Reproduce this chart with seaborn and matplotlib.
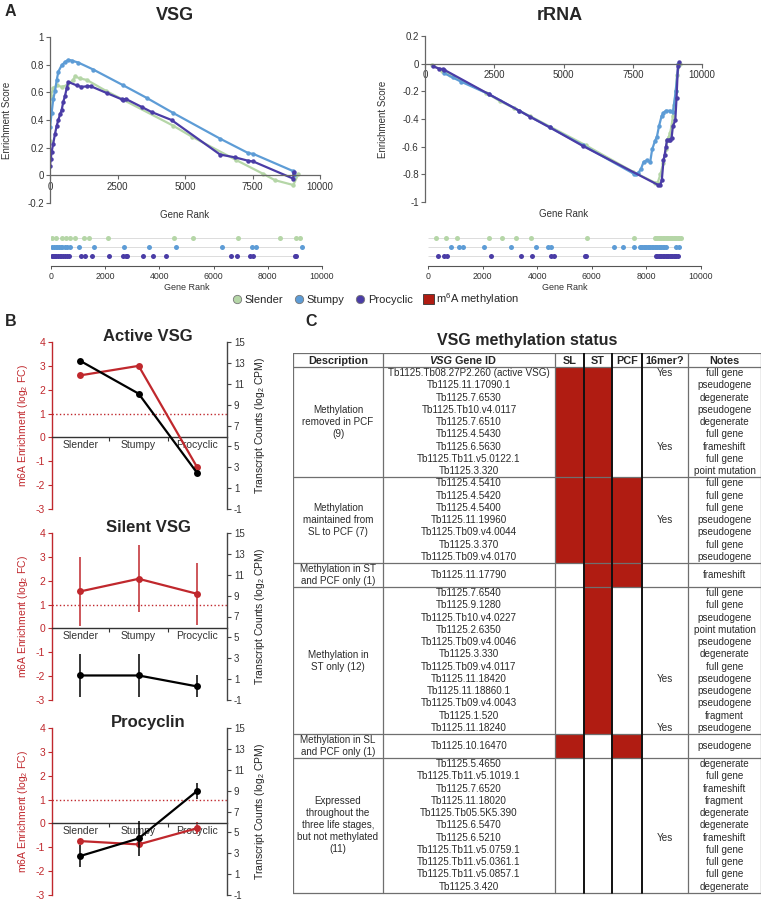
import numpy as np
import pandas as pd
import seaborn as sns
from matplotlib import pyplot as plt
from matplotlib.lines import Line2D
from matplotlib.patches import Patch, Rectangle

W, H = 764, 901

STAGE_COLORS = ['#B5D6A7', '#5D9CD6', '#4A3CA6']   # slender, stumpy, procyclic
STAGE_NAMES = ['Slender', 'Stumpy', 'Procyclic']
RED = '#C0282D'
METH_RED = '#B01C12'

# ---------------- A: running enrichment score ----------------
vsg_slender_rank = [0, 25, 120, 250, 430, 620, 860, 930, 1110, 1360, 2080, 4550, 5250, 6900, 7900, 8330, 9010, 9200]
vsg_slender_es = [0.25, 0.57, 0.63, 0.65, 0.64, 0.65, 0.69, 0.715, 0.70, 0.69, 0.61, 0.36, 0.28, 0.11, 0.01, -0.035, -0.07, 0.01]
vsg_stumpy_rank = [0, 60, 120, 185, 250, 310, 430, 560, 680, 800, 1050, 1600, 2720, 3580, 4570, 6300, 7350, 7530, 9010, 9050]
vsg_stumpy_es = [0.35, 0.45, 0.55, 0.61, 0.69, 0.75, 0.795, 0.82, 0.835, 0.83, 0.815, 0.765, 0.65, 0.56, 0.45, 0.265, 0.16, 0.155, 0.03, 0.0]
vsg_procyclic_rank = [0, 30, 60, 120, 185, 250, 310, 370, 430, 490, 550, 620, 680, 990, 1150, 1360, 1500, 2100, 2650, 2720, 2800, 3400, 3760, 4500, 6300, 6850, 7350, 7530, 9010, 9020]
vsg_procyclic_es = [0.07, 0.12, 0.17, 0.23, 0.30, 0.36, 0.40, 0.44, 0.47, 0.53, 0.57, 0.63, 0.675, 0.65, 0.64, 0.643, 0.645, 0.595, 0.55, 0.547, 0.553, 0.494, 0.458, 0.40, 0.15, 0.13, 0.105, 0.10, -0.024, 0.024]

rrna_slender_rank = [250, 600, 900, 1000, 2200, 2700, 3200, 3800, 5800, 7500, 8300, 8400, 8500, 8600, 8700, 8750, 8800, 8850, 8900, 8950, 9000, 9050, 9100, 9200]
rrna_slender_es = [-0.01, -0.05, -0.08, -0.09, -0.21, -0.27, -0.32, -0.38, -0.59, -0.78, -0.86, -0.86, -0.80, -0.72, -0.62, -0.55, -0.53, -0.50, -0.45, -0.38, -0.30, -0.20, -0.08, 0.0]
rrna_stumpy_rank = [700, 1000, 1300, 2300, 3400, 4500, 5700, 7530, 7600, 7700, 7800, 7890, 8000, 8130, 8200, 8300, 8370, 8450, 8540, 8610, 8700, 8850, 8950, 9050, 9150]
rrna_stumpy_es = [-0.07, -0.10, -0.13, -0.22, -0.34, -0.46, -0.59, -0.795, -0.80, -0.79, -0.76, -0.71, -0.70, -0.71, -0.62, -0.56, -0.53, -0.45, -0.38, -0.355, -0.34, -0.34, -0.35, -0.20, 0.0]
rrna_procyclic_rank = [300, 500, 650, 700, 2300, 3400, 3800, 4500, 5700, 8400, 8490, 8550, 8610, 8650, 8700, 8735, 8800, 8850, 8900, 8950, 9036, 9080, 9130, 9180]
rrna_procyclic_es = [-0.02, -0.035, -0.04, -0.045, -0.22, -0.34, -0.385, -0.46, -0.595, -0.875, -0.88, -0.84, -0.70, -0.66, -0.60, -0.55, -0.555, -0.55, -0.54, -0.45, -0.41, -0.25, -0.02, 0.01]

# hit positions (gene rank) for the barcode rows
vsg_slender_hits = [30, 200, 400, 550, 700, 900, 1200, 1400, 2100, 4550, 5250, 6900, 8450, 9050, 9200]
vsg_stumpy_hits = [40, 100, 170, 230, 300, 360, 420, 500, 600, 700, 1050, 1600, 2700, 3600, 4600, 6300, 7400, 7550, 9250]
vsg_procyclic_hits = [20, 60, 100, 150, 200, 260, 320, 380, 450, 520, 600, 680, 1100, 1250, 1500, 2150, 2650,
                      2750, 2800, 3400, 3750, 4250, 6650, 6850, 7350, 7450, 9000, 9050]
rrna_slender_hits = [300, 660, 1070, 2220, 2720, 3220, 3790, 5810, 7550, 8300, 8350, 8400, 8450, 8500, 8550, 8600,
                     8650, 8700, 8750, 8800, 8850, 8900, 8950, 9000, 9050, 9100, 9150, 9200, 9250]
rrna_stumpy_hits = [850, 1150, 1300, 2050, 3050, 3950, 4400, 4500, 6800, 7150, 7550, 7750, 7800, 7850, 7900, 7950,
                    8000, 8050, 8100, 8150, 8200, 8250, 8300, 8350, 8400, 8450, 8500, 8550, 8600, 8650, 8700, 9100, 9200]
rrna_procyclic_hits = [350, 600, 700, 2300, 3400, 3800, 4500, 4600, 5750, 5800, 8350, 8400, 8450, 8500, 8550, 8600,
                       8650, 8700, 8750, 8800, 8850, 8900, 8950, 9000, 9050, 9100, 9150]

# ---------------- B: m6A enrichment (left axis) and transcript counts (right axis) ----------------
active_m6a = [2.6, 3.0, -1.25]
active_counts = [13.2, 10.05, 2.45]
silent_m6a = [1.55, 2.08, 1.45]
silent_m6a_err = [1.45, 1.4, 1.3]
silent_counts = [1.35, 1.35, 0.3]
silent_counts_err = [2.1, 2.1, 1.05]
procyclin_m6a = [-0.74, -0.88, -0.2]
procyclin_m6a_err = [0.1, 0.1, 0.25]
procyclin_counts = [2.73, 4.42, 8.97]
procyclin_counts_err = [1.03, 1.7, 0.8]

# ---------------- C: VSG methylation status table ----------------
group_desc = [
    'Methylation\nremoved in PCF\n(9)',
    'Methylation\nmaintained from\nSL to PCF (7)',
    'Methylation in ST\nand PCF only (1)',
    'Methylation in\nST only (12)',
    'Methylation in SL\nand PCF only (1)',
    'Expressed\nthroughout the\nthree life stages,\nbut not methylated\n(11)',
]
group_sl = [1, 1, 0, 0, 1, 0]
group_st = [1, 1, 1, 1, 0, 0]
group_pcf = [0, 1, 1, 0, 1, 0]
gene_ids = [
    ['Tb1125.Tb08.27P2.260 (active VSG)', 'Tb1125.11.17090.1', 'Tb1125.7.6530', 'Tb1125.Tb10.v4.0117',
     'Tb1125.7.6510', 'Tb1125.4.5430', 'Tb1125.6.5630', 'Tb1125.Tb11.v5.0122.1', 'Tb1125.3.320'],
    ['Tb1125.4.5410', 'Tb1125.4.5420', 'Tb1125.4.5400', 'Tb1125.11.19960', 'Tb1125.Tb09.v4.0044',
     'Tb1125.3.370', 'Tb1125.Tb09.v4.0170'],
    ['Tb1125.11.17790'],
    ['Tb1125.7.6540', 'Tb1125.9.1280', 'Tb1125.Tb10.v4.0227', 'Tb1125.2.6350', 'Tb1125.Tb09.v4.0046',
     'Tb1125.3.330', 'Tb1125.Tb09.v4.0117', 'Tb1125.11.18420', 'Tb1125.11.18860.1', 'Tb1125.Tb09.v4.0043',
     'Tb1125.1.520', 'Tb1125.11.18240'],
    ['Tb1125.10.16470'],
    ['Tb1125.5.4650', 'Tb1125.Tb11.v5.1019.1', 'Tb1125.7.6520', 'Tb1125.11.18020', 'Tb1125.Tb05.5K5.390',
     'Tb1125.6.5470', 'Tb1125.6.5210', 'Tb1125.Tb11.v5.0759.1', 'Tb1125.Tb11.v5.0361.1',
     'Tb1125.Tb11.v5.0857.1', 'Tb1125.3.420'],
]
gene_16mer = [
    ['Yes', '', '', '', '', '', 'Yes', '', ''],
    ['', '', '', 'Yes', '', '', ''],
    [''],
    ['', '', '', '', '', '', '', 'Yes', '', '', '', 'Yes'],
    [''],
    ['', '', '', '', '', '', 'Yes', '', '', '', ''],
]
gene_notes = [
    ['full gene', 'pseudogene', 'degenerate', 'pseudogene', 'degenerate', 'full gene', 'frameshift',
     'full gene', 'point mutation'],
    ['full gene', 'full gene', 'full gene', 'pseudogene', 'pseudogene', 'full gene', 'pseudogene'],
    ['frameshift'],
    ['full gene', 'full gene', 'pseudogene', 'point mutation', 'pseudogene', 'degenerate', 'full gene',
     'pseudogene', 'pseudogene', 'pseudogene', 'fragment', 'pseudogene'],
    ['pseudogene'],
    ['degenerate', 'full gene', 'frameshift', 'fragment', 'degenerate', 'degenerate', 'frameshift',
     'full gene', 'full gene', 'full gene', 'degenerate'],
]
table_header = ['Description', 'VSG Gene ID', 'SL', 'ST', 'PCF', '16mer?', 'Notes']


sns.set_theme(style='white')
plt.rcParams['font.family'] = ['Liberation Sans', 'DejaVu Sans']
plt.rcParams['mathtext.default'] = 'regular'
plt.rcParams['axes.unicode_minus'] = False

fig = plt.figure(figsize=(W / 100, H / 100), dpi=100)


def px_rect(left, top, right, bottom):
    return [left / W, 1 - bottom / H, (right - left) / W, (bottom - top) / H]


def fig_text(x, y, s, **kw):
    fig.text(x / W, 1 - y / H, s, **kw)


def draw_gsea(rect, curves, ylim, yticks, ylab_x):
    ax = fig.add_axes(px_rect(*rect))
    for (rank, es), color in zip(curves, STAGE_COLORS):
        sns.lineplot(x=rank, y=es, ax=ax, color=color, linewidth=1.6, marker='o',
                     markersize=3.2, markeredgewidth=0, sort=False, estimator=None, legend=False)
    ax.set_xlim(0, 10000)
    ax.set_ylim(*ylim)
    ax.set_yticks(yticks, [f'{v:g}' for v in yticks])
    ax.set_xticks([0, 2500, 5000, 7500, 10000])
    for side in ['top', 'right']:
        ax.spines[side].set_visible(False)
    ax.spines['bottom'].set_position(('data', 0))
    for side in ['left', 'bottom']:
        ax.spines[side].set_color('#666666')
        ax.spines[side].set_linewidth(0.9)
    ax.tick_params(axis='both', direction='out', length=3, width=0.8, color='#666666',
                   labelsize=7, labelcolor='#333333', pad=1.5, left=True, bottom=True)
    ax.set_xlabel('')
    ax.set_ylabel('Enrichment Score', fontsize=7, color='#333333')
    ax.yaxis.set_label_coords(ylab_x, 0.5)
    ax.text(0.5, -0.072, 'Gene Rank', transform=ax.transAxes, ha='center', va='center',
            fontsize=7, color='#333333')
    return ax


def draw_rug(rect, hits):
    ax = fig.add_axes(px_rect(*rect))
    for row, (ranks, color) in enumerate(zip(hits, STAGE_COLORS)):
        y = 2 - row
        ax.hlines(y, 0, max(ranks), color='#dcdcdc', lw=0.7, zorder=1)
        sns.scatterplot(x=ranks, y=[y] * len(ranks), ax=ax, color=color, s=13, linewidth=0,
                        zorder=2, legend=False)
    ax.set_xlim(0, 10000)
    ax.set_ylim(-1.11, 2.67)
    ax.set_xticks(range(0, 10001, 2000))
    ax.set_yticks([])
    for side in ['top', 'right', 'left']:
        ax.spines[side].set_visible(False)
    ax.spines['bottom'].set_color('#555555')
    ax.spines['bottom'].set_linewidth(0.8)
    ax.tick_params(axis='x', direction='out', length=2.5, width=0.7, color='#555555',
                   labelsize=6.3, labelcolor='#333333', pad=1.5, bottom=True)
    ax.set_xlabel('Gene Rank', fontsize=6.5, color='#333333', labelpad=2)
    return ax


# ---------- panel A ----------
fig_text(5, 11, 'A', fontsize=11.5, fontweight='bold', va='center')
fig_text(175, 16, 'VSG', fontsize=13, fontweight='bold', ha='center', va='center')
fig_text(560, 16, 'rRNA', fontsize=13, fontweight='bold', ha='center', va='center')

draw_gsea((50, 37, 320, 203),
          [(vsg_slender_rank, vsg_slender_es), (vsg_stumpy_rank, vsg_stumpy_es),
           (vsg_procyclic_rank, vsg_procyclic_es)],
          (-0.2, 1.0), [-0.2, 0, 0.2, 0.4, 0.6, 0.8, 1], -0.14)
draw_gsea((425, 36, 702, 202),
          [(rrna_slender_rank, rrna_slender_es), (rrna_stumpy_rank, rrna_stumpy_es),
           (rrna_procyclic_rank, rrna_procyclic_es)],
          (-1.0, 0.2), [-1, -0.8, -0.6, -0.4, -0.2, 0, 0.2], -0.135)

draw_rug((51, 232, 322, 266), [vsg_slender_hits, vsg_stumpy_hits, vsg_procyclic_hits])
draw_rug((428, 232, 701, 266), [rrna_slender_hits, rrna_stumpy_hits, rrna_procyclic_hits])

handles = [Line2D([], [], ls='none', marker='o', markersize=6, markerfacecolor=c,
                  markeredgecolor='#777777', markeredgewidth=0.6) for c in STAGE_COLORS]
handles.append(Patch(facecolor=METH_RED, edgecolor='#333333', linewidth=0.6))
fig.legend(handles, STAGE_NAMES + [r'm$^{6}$A methylation'], loc='center',
           bbox_to_anchor=(375 / W, 1 - 299 / H), ncol=4, frameon=False, fontsize=8,
           handletextpad=0.2, columnspacing=0.9, handlelength=1.0, handleheight=0.9)

# ---------- panel B ----------
fig_text(5, 322, 'B', fontsize=11.5, fontweight='bold', va='center')


def draw_stage_panel(rect, title, m6a, counts, m6a_err=None, counts_err=None):
    ax = fig.add_axes(px_rect(*rect))
    ax2 = ax.twinx()
    xs = np.arange(len(STAGE_NAMES))

    ax.axhline(1, color=RED, ls=':', lw=1.0, zorder=1)
    if m6a_err is not None:
        ax.errorbar(xs, m6a, yerr=m6a_err, fmt='none', ecolor=RED, elinewidth=1.1, capsize=0, zorder=2)
    sns.lineplot(x=xs, y=m6a, ax=ax, color=RED, linewidth=1.6, marker='o', markersize=5,
                 markeredgewidth=0, sort=False, estimator=None, legend=False, zorder=3)
    if counts_err is not None:
        ax2.errorbar(xs, counts, yerr=counts_err, fmt='none', ecolor='black', elinewidth=1.1, capsize=0)
    sns.lineplot(x=xs, y=counts, ax=ax2, color='black', linewidth=1.6, marker='o', markersize=5,
                 markeredgewidth=0, sort=False, estimator=None, legend=False)

    for a in (ax, ax2):
        a.set_xlim(-0.48, 2.51)
    ax.set_ylim(-3, 4)
    ax2.set_ylim(-1, 15)
    ax.set_yticks(range(-3, 5))
    ax2.set_yticks(range(-1, 16, 2))

    ax.spines['bottom'].set_position(('data', 0))
    ax.spines['bottom'].set_color('#333333')
    ax.spines['bottom'].set_linewidth(1.0)
    ax.spines['left'].set_color(RED)
    ax.spines['left'].set_linewidth(1.0)
    for side in ['top', 'right']:
        ax.spines[side].set_visible(False)
    for side in ['top', 'left', 'bottom']:
        ax2.spines[side].set_visible(False)
    ax2.spines['right'].set_color('#444444')
    ax2.spines['right'].set_linewidth(1.0)

    ax.set_xticks([0.5, 1.5], ['', ''])
    ax.set_xticks(xs, STAGE_NAMES, minor=True)
    ax.tick_params(axis='x', which='major', direction='out', length=3, width=0.8,
                   color='#333333', bottom=True)
    ax.tick_params(axis='x', which='minor', length=0, labelsize=7.5, labelcolor='#333333', pad=2)
    ax.tick_params(axis='y', direction='out', length=3, width=0.8, color=RED, labelcolor=RED,
                   labelsize=7.5, pad=2, left=True)
    ax2.tick_params(axis='y', direction='out', length=3, width=0.8, color='#444444',
                    labelcolor='#333333', labelsize=7, pad=2, right=True)
    ax2.tick_params(axis='x', bottom=False, labelbottom=False)

    ax.set_xlabel('')
    ax.set_ylabel(r'm6A Enrichment (log$_2$ FC)', color=RED, fontsize=7.5, labelpad=4)
    ax2.set_ylabel(r'Transcript Counts (log$_2$ CPM)', color='#222222', fontsize=7.5, labelpad=6)
    ax.text(0.55, 1.03, title, transform=ax.transAxes, ha='center', va='center',
            fontsize=12, fontweight='bold')


draw_stage_panel((52, 342, 227, 509), 'Active VSG', active_m6a, active_counts)
draw_stage_panel((52, 533, 227, 700), 'Silent VSG', silent_m6a, silent_counts,
                 silent_m6a_err, silent_counts_err)
draw_stage_panel((52, 728, 227, 895), 'Procyclin', procyclin_m6a, procyclin_counts,
                 procyclin_m6a_err, procyclin_counts_err)

# ---------- panel C ----------
fig_text(305, 322, 'C', fontsize=11.5, fontweight='bold', va='center')
fig_text(527, 340, 'VSG methylation status', fontsize=11.5, fontweight='bold', ha='center', va='center')

T_LEFT, T_TOP, T_RIGHT, T_BOTTOM = 293, 353, 761, 897
col_edges = [293, 383, 555, 584, 612, 642, 688, 761]
header_h = 14
row_h = 12.25
min_group_h = 24

ax_t = fig.add_axes(px_rect(T_LEFT, T_TOP, T_RIGHT, T_BOTTOM))
ax_t.set_xlim(T_LEFT, T_RIGHT)
ax_t.set_ylim(T_BOTTOM, T_TOP)
ax_t.axis('off')

col_mid = [(a + b) / 2 for a, b in zip(col_edges[:-1], col_edges[1:])]
txt = dict(ha='center', va='center', fontsize=7.1, color='#2a2a2a')

hy = T_TOP + header_h / 2 + 0.5
for i, name in enumerate(table_header):
    if name == 'VSG Gene ID':
        ax_t.text(col_mid[i] - 17, hy, 'VSG', ha='right', va='center', fontsize=7.8,
                  fontweight='bold', fontstyle='italic')
        ax_t.text(col_mid[i] - 17, hy, ' Gene ID', ha='left', va='center', fontsize=7.8,
                  fontweight='bold')
    else:
        ax_t.text(col_mid[i], hy, name, ha='center', va='center', fontsize=7.8, fontweight='bold')

top = T_TOP + header_h
hlines = [T_TOP, top]
for g, desc in enumerate(group_desc):
    n = len(gene_ids[g])
    gh = max(n * row_h, min_group_h)
    for k, flag in enumerate([group_sl[g], group_st[g], group_pcf[g]]):
        if flag:
            ax_t.add_patch(Rectangle((col_edges[2 + k], top), col_edges[3 + k] - col_edges[2 + k], gh,
                                     facecolor=METH_RED, edgecolor='none', zorder=1))
    ax_t.text(col_mid[0], top + gh / 2, desc, linespacing=1.25, **txt)
    for i in range(n):
        yy = top + gh / 2 if n == 1 else top + (i + 0.5) * row_h
        ax_t.text(col_mid[1], yy, gene_ids[g][i], **txt)
        ax_t.text(col_mid[5], yy, gene_16mer[g][i], **txt)
        ax_t.text(col_mid[6], yy, gene_notes[g][i], **txt)
    top += gh
    hlines.append(top)

for y in hlines:
    ax_t.plot([T_LEFT, T_RIGHT], [y, y], color='#6f6f6f', lw=0.9, zorder=3)
for i, x in enumerate(col_edges):
    dark = i in (3, 4, 5)
    ax_t.plot([x, x], [T_TOP, hlines[-1]], color='#111111' if dark else '#6f6f6f',
              lw=1.4 if dark else 0.9, zorder=3)

fig.savefig('out.png', dpi=100)
